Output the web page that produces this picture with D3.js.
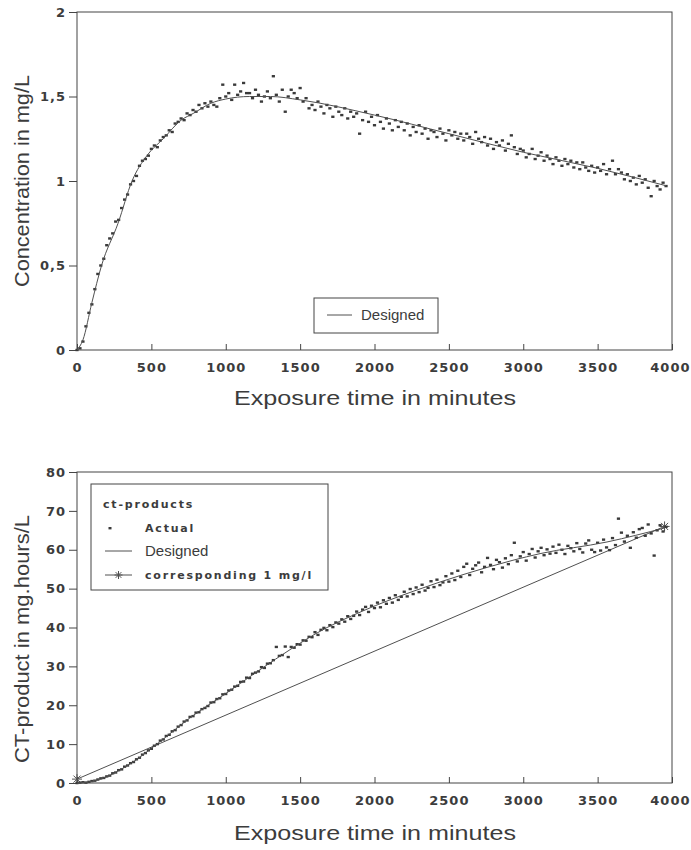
<!DOCTYPE html>
<html>
<head>
<meta charset="utf-8">
<script src="https://cdn.jsdelivr.net/npm/d3@7"></script>
<style>
  body { margin: 0; background: #fff; }
  svg { display: block; }
</style>
</head>
<body>
<svg id="chart" width="691" height="850"></svg>
<script>
// sample times (minutes), shared by both measured series
const timeMinutes = [
  0, 20, 40, 60, 80, 100, 120, 140, 160, 180,
  200, 220, 240, 260, 280, 300, 320, 340, 360, 380,
  400, 420, 440, 460, 480, 500, 520, 540, 560, 580,
  600, 620, 640, 660, 680, 700, 720, 740, 760, 780,
  800, 820, 840, 860, 880, 900, 920, 940, 960, 980,
  1000, 1020, 1040, 1060, 1080, 1100, 1120, 1140, 1160, 1180,
  1200, 1220, 1240, 1260, 1280, 1300, 1320, 1340, 1360, 1380,
  1400, 1420, 1440, 1460, 1480, 1500, 1520, 1540, 1560, 1580,
  1600, 1620, 1640, 1660, 1680, 1700, 1720, 1740, 1760, 1780,
  1800, 1820, 1840, 1860, 1880, 1900, 1920, 1940, 1960, 1980,
  2000, 2020, 2040, 2060, 2080, 2100, 2120, 2140, 2160, 2180,
  2200, 2220, 2240, 2260, 2280, 2300, 2320, 2340, 2360, 2380,
  2400, 2420, 2440, 2460, 2480, 2500, 2520, 2540, 2560, 2580,
  2600, 2620, 2640, 2660, 2680, 2700, 2720, 2740, 2760, 2780,
  2800, 2820, 2840, 2860, 2880, 2900, 2920, 2940, 2960, 2980,
  3000, 3020, 3040, 3060, 3080, 3100, 3120, 3140, 3160, 3180,
  3200, 3220, 3240, 3260, 3280, 3300, 3320, 3340, 3360, 3380,
  3400, 3420, 3440, 3460, 3480, 3500, 3520, 3540, 3560, 3580,
  3600, 3620, 3640, 3660, 3680, 3700, 3720, 3740, 3760, 3780,
  3800, 3820, 3840, 3860, 3880, 3900, 3920, 3940, 3960
];

// measured concentration (mg/L)
const concActual = [
  0.00, 0.01, 0.05, 0.14, 0.22, 0.27, 0.36, 0.45, 0.50, 0.54,
  0.62, 0.66, 0.69, 0.76, 0.77, 0.84, 0.89, 0.92, 0.98, 1.00,
  1.03, 1.09, 1.12, 1.13, 1.15, 1.19, 1.21, 1.20, 1.24, 1.26,
  1.27, 1.30, 1.29, 1.34, 1.35, 1.37, 1.36, 1.40, 1.39, 1.42,
  1.41, 1.45, 1.43, 1.46, 1.44, 1.47, 1.45, 1.44, 1.49, 1.57,
  1.50, 1.52, 1.48, 1.57, 1.51, 1.53, 1.58, 1.52, 1.52, 1.49,
  1.54, 1.51, 1.47, 1.50, 1.53, 1.49, 1.62, 1.51, 1.47, 1.54,
  1.41, 1.50, 1.54, 1.52, 1.49, 1.55, 1.47, 1.49, 1.43, 1.45,
  1.42, 1.47, 1.44, 1.40, 1.45, 1.43, 1.38, 1.44, 1.41, 1.39,
  1.43, 1.37, 1.41, 1.38, 1.40, 1.28, 1.36, 1.41, 1.35, 1.38,
  1.33, 1.39, 1.35, 1.31, 1.37, 1.34, 1.30, 1.36, 1.32, 1.35,
  1.30, 1.34, 1.27, 1.32, 1.29, 1.33, 1.28, 1.31, 1.25, 1.30,
  1.29, 1.26, 1.31, 1.28, 1.24, 1.30, 1.27, 1.29, 1.25, 1.28,
  1.24, 1.28, 1.26, 1.22, 1.29, 1.25, 1.23, 1.26, 1.21, 1.25,
  1.19, 1.23, 1.21, 1.24, 1.18, 1.22, 1.27, 1.20, 1.16, 1.19,
  1.18, 1.14, 1.16, 1.19, 1.13, 1.15, 1.17, 1.12, 1.15, 1.13,
  1.10, 1.14, 1.12, 1.09, 1.13, 1.10, 1.12, 1.08, 1.11, 1.07,
  1.11, 1.08, 1.06, 1.09, 1.05, 1.08, 1.06, 1.10, 1.04, 1.07,
  1.12, 1.04, 1.07, 1.05, 1.01, 1.04, 1.00, 1.02, 0.98, 1.03,
  0.99, 1.01, 0.96, 0.91, 1.00, 0.97, 0.95, 0.99, 0.97
];

// measured ct-product (mg.hours/L)
const ctActual = [
  0.0, 0.1, 0.2, 0.1, 0.3, 0.5, 0.6, 0.9, 1.2, 1.3,
  1.7, 1.9, 2.5, 2.7, 3.3, 3.5, 4.2, 4.5, 5.1, 5.4,
  6.1, 6.5, 7.3, 7.7, 8.4, 8.8, 9.6, 10.0, 10.9, 11.2,
  12.1, 12.4, 13.3, 13.6, 14.5, 14.9, 15.8, 16.1, 17.0, 17.2,
  18.1, 18.2, 19.0, 19.3, 19.8, 20.7, 20.8, 21.6, 21.8, 22.8,
  22.9, 23.8, 24.0, 24.8, 25.0, 26.0, 26.1, 27.1, 27.0, 28.1,
  28.4, 28.7, 29.8, 29.6, 30.7, 30.8, 31.6, 35.0, 32.7, 32.9,
  35.1, 32.4, 35.0, 34.8, 35.7, 35.6, 36.7, 36.6, 37.6, 37.5,
  38.8, 38.1, 39.4, 39.9, 39.3, 40.6, 40.1, 41.3, 41.0, 42.1,
  41.5, 42.9, 42.2, 43.0, 44.1, 43.2, 44.6, 45.3, 44.0, 45.6,
  45.0, 46.4, 45.2, 47.0, 46.1, 47.6, 46.4, 48.3, 47.1, 47.9,
  49.2, 48.0, 49.9, 48.6, 50.3, 49.1, 51.0, 49.5, 50.2, 51.9,
  50.4, 52.3, 50.9, 51.6, 53.2, 51.8, 53.9, 52.2, 54.6, 53.0,
  55.6, 56.4, 53.5, 55.1, 56.0, 56.7, 54.2, 55.6, 57.9, 56.1,
  55.0, 57.4, 56.8, 55.4, 57.8, 56.3, 58.6, 61.8, 57.0, 58.3,
  59.4, 57.2, 58.9, 60.2, 58.0, 59.6, 60.5, 58.6, 60.1, 59.0,
  60.8, 59.2, 61.3, 60.0, 58.9, 61.0, 60.4, 59.6, 61.7, 60.2,
  59.3, 61.6, 62.4, 60.0, 59.4, 61.8, 59.8, 62.6, 60.6, 59.9,
  63.0, 61.2, 68.0, 64.4, 62.1, 63.6, 60.5, 64.5, 63.1, 65.3,
  65.6, 63.6, 66.5, 64.2, 58.5, 65.0, 66.3, 64.7, 65.9
];

// designed concentration curve
const designedConcTime = [0, 40, 100, 165, 276, 370, 470, 580, 700, 782, 900, 1000, 1160, 1300, 1500, 2000, 2500, 3000, 3500, 3960];
const designedConc = [0, 0.06, 0.28, 0.5, 0.75, 1.0, 1.15, 1.25, 1.36, 1.4, 1.46, 1.485, 1.5, 1.5, 1.48, 1.39, 1.28, 1.17, 1.075, 0.972];

// designed ct-product curve
const designedCtTime = [0, 100, 200, 300, 400, 500, 600, 750, 1000, 1217, 1452, 1600, 1924, 2259, 2595, 2931, 3113, 3563, 3950];
const designedCt = [0, 0.4, 1.6, 3.6, 6.0, 8.9, 11.9, 16.5, 23, 28.8, 34.8, 38.3, 44.3, 49.3, 53.6, 57.3, 59, 62, 65.6];

// ct-product at a constant 1 mg/l
const refLineTime = [0, 3950];
const refLineCt = [1, 66];

// ticks
const timeTicks = [0, 500, 1000, 1500, 2000, 2500, 3000, 3500, 4000];
const concTicks = [0, 0.5, 1, 1.5, 2];
const concTickLabels = ['0', '0,5', '1', '1,5', '2'];
const ctTicks = [0, 10, 20, 30, 40, 50, 60, 70, 80];

const ink = '#454545';
const svg = d3.select('#chart');

const x = d3.scaleLinear().domain([0, 4000]).range([77, 672]);
const yConc = d3.scaleLinear().domain([0, 2]).range([350, 12]);
const yCt = d3.scaleLinear().domain([0, 80]).range([783, 472]);

// asterisk marker path
function asterisk(r) {
  let p = '';
  for (let a = 0; a < 4; a++) {
    const t = a * Math.PI / 4;
    const dx = r * Math.cos(t), dy = r * Math.sin(t);
    p += `M${-dx},${-dy}L${dx},${dy}`;
  }
  return p;
}

function drawFrame(yScale, ticks, labels, top, bottom) {
  // x axis, ticks pointing inwards
  const xa = svg.append('g')
    .attr('transform', `translate(0,${bottom})`)
    .call(d3.axisBottom(x).tickValues(timeTicks).tickSize(-6).tickPadding(13).tickFormat(d3.format('d')));
  // y axis, ticks outwards
  const ya = svg.append('g')
    .attr('transform', 'translate(77,0)')
    .call(d3.axisLeft(yScale).tickValues(ticks).tickSize(8).tickPadding(3)
      .tickFormat((d, i) => labels[i]));

  [xa, ya].forEach(g => {
    g.select('.domain').remove();
    g.selectAll('line').attr('stroke', ink);
    g.selectAll('text')
      .attr('fill', '#3c3c3c')
      .style('font-family', '"DejaVu Sans", sans-serif')
      .style('font-weight', 'bold')
      .style('font-size', '13px')
      .style('letter-spacing', '1px');
  });
  // last label sits against the page edge
  xa.selectAll('.tick').filter(d => d === 4000).select('text')
    .attr('text-anchor', 'end').attr('x', 18);

  svg.append('rect')
    .attr('x', 77).attr('y', top)
    .attr('width', 595).attr('height', bottom - top)
    .attr('fill', 'none').attr('stroke', ink).attr('stroke-width', 1);
}

function axisTitles(yText, yCenter, yLen, xBase) {
  svg.append('text')
    .attr('transform', `translate(29,${yCenter}) rotate(-90)`)
    .attr('text-anchor', 'middle')
    .attr('textLength', yLen).attr('lengthAdjust', 'spacingAndGlyphs')
    .style('font-family', '"Liberation Sans", Arial, sans-serif')
    .style('font-size', '21px')
    .attr('fill', '#3c3c3c')
    .text(yText);
  svg.append('text')
    .attr('x', 375).attr('y', xBase)
    .attr('text-anchor', 'middle')
    .attr('textLength', 282).attr('lengthAdjust', 'spacingAndGlyphs')
    .style('font-family', '"Liberation Sans", Arial, sans-serif')
    .style('font-size', '21px')
    .attr('fill', '#3c3c3c')
    .text('Exposure time in minutes');
}

function dots(values, yScale) {
  svg.append('g')
    .selectAll('rect')
    .data(timeMinutes)
    .join('rect')
    .attr('x', d => x(d) - 1.6)
    .attr('y', (d, i) => yScale(values[i]) - 1.2)
    .attr('width', 3.2)
    .attr('height', 2.4)
    .attr('fill', '#3a3a3a');
}

function curve(ts, vs, yScale, smooth) {
  const line = d3.line()
    .x(d => x(d[0]))
    .y(d => yScale(d[1]))
    .curve(smooth ? d3.curveMonotoneX : d3.curveLinear);
  svg.append('path')
    .attr('d', line(d3.zip(ts, vs)))
    .attr('fill', 'none')
    .attr('stroke', '#505050')
    .attr('stroke-width', 1);
}

// ---- top: concentration ----
drawFrame(yConc, concTicks, concTickLabels, 12, 350);
dots(concActual, yConc);
curve(designedConcTime, designedConc, yConc, true);
axisTitles('Concentration in mg/L', 181, 212, 405);

// legend
const lg1 = svg.append('g');
lg1.append('rect')
  .attr('x', 314).attr('y', 298).attr('width', 124).attr('height', 35)
  .attr('fill', '#fff').attr('stroke', ink);
lg1.append('line')
  .attr('x1', 327).attr('x2', 352).attr('y1', 315).attr('y2', 315)
  .attr('stroke', '#505050');
lg1.append('text')
  .attr('x', 361).attr('y', 320)
  .style('font-family', '"Liberation Sans", Arial, sans-serif')
  .style('font-size', '15px')
  .attr('fill', '#3c3c3c')
  .text('Designed');

// ---- bottom: ct-product ----
drawFrame(yCt, ctTicks, ctTicks.map(String), 472, 783);
curve(refLineTime, refLineCt, yCt, false);
svg.append('g')
  .selectAll('path')
  .data(refLineTime)
  .join('path')
  .attr('transform', (d, i) => `translate(${x(d)},${yCt(refLineCt[i])})`)
  .attr('d', asterisk(5))
  .attr('stroke', '#505050')
  .attr('fill', 'none');
dots(ctActual, yCt);
curve(designedCtTime, designedCt, yCt, true);
axisTitles('CT-product in mg.hours/L', 639, 248, 840);

// legend
const lg2 = svg.append('g');
lg2.append('rect')
  .attr('x', 91).attr('y', 484).attr('width', 237).attr('height', 106)
  .attr('fill', '#fff').attr('stroke', ink);
const boldText = (t, yb) => lg2.append('text')
  .attr('x', t === 'ct-products' ? 103 : 145).attr('y', yb)
  .style('font-family', '"DejaVu Sans", sans-serif')
  .style('font-weight', 'bold')
  .style('font-size', '11px')
  .style('letter-spacing', '1.8px')
  .attr('fill', '#3c3c3c')
  .text(t);
boldText('ct-products', 508);
boldText('Actual', 532);
boldText('corresponding 1 mg/l', 579);
lg2.append('rect')
  .attr('x', 108.5).attr('y', 527).attr('width', 3).attr('height', 2.4)
  .attr('fill', '#3a3a3a');
lg2.append('line')
  .attr('x1', 105).attr('x2', 132).attr('y1', 551).attr('y2', 551)
  .attr('stroke', '#505050');
lg2.append('text')
  .attr('x', 145).attr('y', 556)
  .style('font-family', '"Liberation Sans", Arial, sans-serif')
  .style('font-size', '15px')
  .attr('fill', '#3c3c3c')
  .text('Designed');
lg2.append('line')
  .attr('x1', 105).attr('x2', 132).attr('y1', 575).attr('y2', 575)
  .attr('stroke', '#505050');
lg2.append('path')
  .attr('transform', 'translate(118.5,575)')
  .attr('d', asterisk(4))
  .attr('stroke', '#505050')
  .attr('fill', 'none');
</script>
</body>
</html>
